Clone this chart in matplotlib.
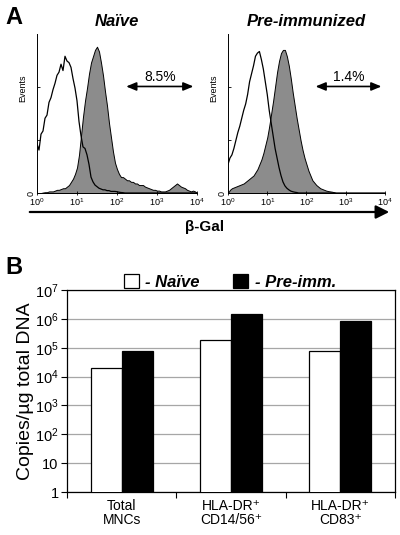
import matplotlib

matplotlib.use("Agg")
import matplotlib.pyplot as plt
import numpy as np
from matplotlib.patches import Patch

plt.rcParams["font.family"] = ["Liberation Sans", "DejaVu Sans"]
plt.rcParams["mathtext.fontset"] = "custom"
plt.rcParams["mathtext.rm"] = "Liberation Sans"
plt.rcParams["mathtext.it"] = "Liberation Sans:italic"
plt.rcParams["mathtext.bf"] = "Liberation Sans:bold"

# ---- panel A: flow cytometry histograms (channel = log10 fluorescence, step 0.05)
CHANNEL_LOG = np.linspace(0, 4, 81)

naive_control = [
	31, 27, 37, 39, 47, 49, 57, 60, 65, 69, 74, 76, 81, 77, 86, 83, 82, 79, 72, 66,
	58, 45, 36, 29, 28, 24, 18, 10, 7, 5, 4, 3, 2.5, 2, 2, 1.5, 1.5, 1, 1, 1,
	0.8, 0.5, 0.3, 0.2, 0, 0, 0, 0, 0, 0, 0, 0, 0, 0, 0, 0, 0, 0, 0, 0,
	0, 0, 0, 0, 0, 0, 0, 0, 0, 0, 0, 0, 0, 0, 0, 0, 0, 0, 0, 0, 0,
]
naive_stained = [
	0, 0, 0, 0.3, 0.5, 0.5, 1, 1, 1, 1.5, 2, 2, 2.5, 3, 3, 4, 5, 7, 9, 12,
	16, 24, 36, 48, 58, 66, 75, 82, 86, 90, 92, 89, 82, 74, 64, 55, 44, 35, 26, 19,
	15, 12, 10, 10, 9, 8, 8, 7, 7, 6, 6, 5, 5, 5, 4, 3.5, 3, 2.5, 2, 2,
	1.5, 1.5, 1, 1, 1, 1.5, 2, 3, 4, 5, 6, 5, 4, 3.5, 3, 2, 1.5, 1, 1.5, 1, 0,
]
preimm_control = [
	18, 22, 24, 28, 33, 38, 42, 47, 52, 56, 62, 70, 75, 80, 86, 88, 89, 84, 78, 70,
	62, 52, 44, 36, 28, 22, 16, 11, 7, 4.5, 3, 2, 1.2, 0.8, 0.5, 0.3, 0, 0, 0, 0,
	0, 0, 0, 0, 0, 0, 0, 0, 0, 0, 0, 0, 0, 0, 0, 0, 0, 0, 0, 0,
	0, 0, 0, 0, 0, 0, 0, 0, 0, 0, 0, 0, 0, 0, 0, 0, 0, 0, 0, 0, 0,
]
preimm_stained = [
	0, 2, 3, 3.5, 4, 4.5, 5, 5.5, 6, 7, 8, 9, 10, 11, 13, 15, 18, 21, 25, 30,
	35, 42, 50, 58, 67, 76, 83, 88, 90, 90, 86, 80, 72, 63, 55, 47, 40, 33, 27, 22,
	18, 14, 11, 8, 6.5, 5, 4, 3, 2.5, 2, 1.5, 1.2, 1, 0.8, 0.5, 0, 0, 0, 0, 0,
	0, 0, 0, 0, 0, 0, 0, 0, 0, 0, 0, 0, 0, 0, 0, 0, 0, 0, 0, 0, 0,
]

hist_titles = ["Naïve", "Pre-immunized"]
hist_percent = ["8.5%", "1.4%"]

# ---- panel B: copies per ug DNA
groups = ["Total\nMNCs", "HLA-DR\u207a\nCD14/56\u207a", "HLA-DR\u207a\nCD83\u207a"]
naive_copies = [2.0e4, 1.85e5, 8.0e4]
preimm_copies = [7.9e4, 1.5e6, 8.5e5]

fig = plt.figure(figsize=(4.0, 5.35), dpi=100)
W, H = 400, 535


def axes_px(x0, y0, x1, y1):
	return fig.add_axes([x0 / W, 1 - y1 / H, (x1 - x0) / W, (y1 - y0) / H])


hist_axes = [axes_px(37, 34, 197, 193), axes_px(228, 34, 385, 193)]
hist_data = [(naive_control, naive_stained), (preimm_control, preimm_stained)]
fluor = np.power(10.0, CHANNEL_LOG)

for ax, (ctrl, stain), title, pct in zip(hist_axes, hist_data, hist_titles, hist_percent):
	ax.fill_between(fluor, stain, facecolor="#8c8c8c", edgecolor="black", linewidth=0.7)
	ax.plot(fluor, ctrl, color="black", linewidth=0.9)
	ax.set_xscale("log")
	ax.set_xlim(1, 1e4)
	ax.set_ylim(0, 100)
	ax.spines[["top", "right"]].set_visible(False)
	ax.spines[["left", "bottom"]].set_linewidth(0.7)
	ax.set_xticks([1, 10, 100, 1000, 10000])
	ax.set_xticklabels(["$10^{0}$", "$10^{1}$", "$10^{2}$", "$10^{3}$", "$10^{4}$"], fontsize=6.5)
	ax.tick_params(axis="x", which="major", direction="inout", length=3, width=0.6, pad=1)
	ax.tick_params(axis="x", which="minor", direction="in", length=1.5, width=0.4)
	ax.set_yticks([0, 33.3, 66.6])
	ax.set_yticklabels(["0", "", ""], fontsize=6.5, rotation=90, va="center")
	ax.tick_params(axis="y", direction="in", length=2.5, width=0.6, pad=1)
	ax.set_facecolor("none")
	ax.text(-0.09, 0.66, "Events", transform=ax.transAxes, rotation=90, fontsize=6.5, ha="center", va="center")
	ax.text(0.5, 1.08, title, transform=ax.transAxes, fontsize=12, fontweight="bold", fontstyle="italic", ha="center", va="center")
	ax.annotate(
		"", xy=(0.995, 0.67), xytext=(0.54, 0.67), xycoords="axes fraction",
		arrowprops=dict(arrowstyle="<|-|>,head_length=0.6,head_width=0.25", color="black", lw=1.2),
	)
	ax.text(0.77, 0.73, pct, transform=ax.transAxes, fontsize=10, ha="center", va="center")

fig.text(5 / W, 1 - 17 / H, "A", fontsize=17, fontweight="bold", va="center")
fig.patches.append(
	matplotlib.patches.FancyArrowPatch(
		(27 / W, 1 - 212 / H), (392 / W, 1 - 212 / H), transform=fig.transFigure,
		arrowstyle="-|>,head_length=8,head_width=4", color="black", lw=1.6, mutation_scale=1,
	)
)
fig.text(205 / W, 1 - 227 / H, "β-Gal", fontsize=11, fontweight="bold", ha="center", va="center")

# ---- panel B
ax = axes_px(67, 290, 395, 492)
x = np.arange(len(groups))
w = 0.285
ax.bar(x - w / 2, naive_copies, w, color="white", edgecolor="black", linewidth=0.9, zorder=3)
ax.bar(x + w / 2, preimm_copies, w, color="black", edgecolor="black", linewidth=0.9, zorder=3)
ax.set_yscale("log")
ax.set_ylim(1, 1e7)
ax.set_xlim(-0.5, 2.5)
ax.set_yticks([1, 10, 1e2, 1e3, 1e4, 1e5, 1e6, 1e7])
ax.set_yticklabels(["1", "10", "$10^{2}$", "$10^{3}$", "$10^{4}$", "$10^{5}$", "$10^{6}$", "$10^{7}$"], fontsize=10.5)
ax.yaxis.set_minor_locator(matplotlib.ticker.NullLocator())
ax.grid(axis="y", color="#a6a6a6", linewidth=0.9, zorder=0)
ax.set_xticks(x)
ax.set_xticklabels(groups, fontsize=10, linespacing=1.05)
ax.set_xticks([-0.5, 0.5, 1.5, 2.5], minor=True)
ax.tick_params(axis="x", which="major", length=0, pad=5)
ax.tick_params(axis="x", which="minor", length=4, width=0.8)
ax.tick_params(axis="y", length=4, width=0.8, pad=2)
for s in ax.spines.values():
	s.set_linewidth(0.9)
ax.set_ylabel("Copies/µg total DNA", fontsize=14, labelpad=1)

handles = [
	Patch(facecolor="white", edgecolor="black", linewidth=0.9, label="- Naïve"),
	Patch(facecolor="black", edgecolor="black", linewidth=0.9, label="- Pre-imm."),
]
ax.legend(
	handles=handles, loc="center", bbox_to_anchor=(0.497, 1.04), ncol=2, frameon=False,
	handlelength=0.9, handleheight=0.9, handletextpad=0.4, columnspacing=2.0,
	prop=dict(size=12, weight="bold", style="italic"), borderpad=0.1,
)
fig.text(5 / W, 1 - 268 / H, "B", fontsize=17, fontweight="bold", va="center")

fig.savefig("out.png", dpi=100)
